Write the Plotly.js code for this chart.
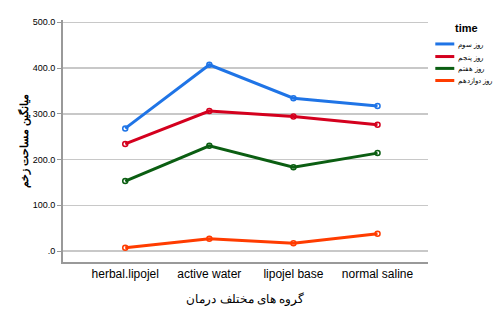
<!DOCTYPE html>
<html><head><meta charset="utf-8">
<script src="https://cdn.plot.ly/plotly-3.0.1.min.js"></script>
<style>html,body{margin:0;padding:0;background:#fff;}#chart{width:495px;height:309px;}</style>
</head><body><div id="chart"></div>
<script>
var categories = ["herbal.lipojel", "active water", "lipojel base", "normal saline"];
var seriesNames = ["روز سوم", "روز پنجم", "روز هفتم", "روز دوازدهم"];
var day3 = [268, 407, 334, 317];
var day5 = [234, 306, 294, 276];
var day7 = [153, 230, 183, 214];
var day12 = [7, 27, 17, 38];
var yTickVals = [0, 100, 200, 300, 400, 500];
var yTickText = [".0", "100.0", "200.0", "300.0", "400.0", "500.0"];
var colors = ["#1f74e6", "#d4001e", "#0b5e12", "#ff3c00"];
var allSeries = [day3, day5, day7, day12];

var traces = allSeries.map(function (vals, i) {
  return {
    x: categories, y: vals, name: seriesNames[i], type: "scatter", mode: "lines+markers",
    line: {color: colors[i], width: 3},
    marker: {symbol: "circle-open", size: 5, color: colors[i], line: {width: 1.5}}
  };
});

// Manual legend (paper coordinates) to match the compact reference legend
var legendY = [0.901, 0.849, 0.800, 0.750];
var shapes = [], annotations = [];
seriesNames.forEach(function (nm, i) {
  shapes.push({type: "line", xref: "paper", yref: "paper",
    x0: 1.02, x1: 1.072, y0: legendY[i], y1: legendY[i],
    line: {color: colors[i], width: 3}});
  annotations.push({xref: "paper", yref: "paper", x: 1.076, y: legendY[i] - 0.004,
    xanchor: "left", yanchor: "middle", showarrow: false, text: nm,
    font: {size: 7, color: "#000"}});
});
annotations.push({xref: "paper", yref: "paper", x: 1.105, y: 0.967,
  xanchor: "center", yanchor: "middle", showarrow: false, text: "<b>time</b>",
  font: {size: 11, color: "#000"}});

var layout = {
  width: 495, height: 309,
  margin: {l: 63, r: 67, t: 20, b: 47},
  paper_bgcolor: "#fff", plot_bgcolor: "#fff",
  font: {family: "Liberation Sans, Arial, sans-serif", color: "#000"},
  showlegend: false,
  shapes: shapes, annotations: annotations,
  xaxis: {
    type: "category", range: [-0.74, 3.6],
    showgrid: false, zeroline: false,
    showline: true, linecolor: "#999", linewidth: 2,
    ticks: "", tickfont: {size: 12},
    title: {text: "گروه های مختلف درمان", font: {size: 12}, standoff: 14}
  },
  yaxis: {
    range: [-24, 505],
    tickvals: yTickVals, ticktext: yTickText,
    showgrid: true, gridcolor: "#c8c8c8", gridwidth: 1.5,
    zeroline: false, showline: true, linecolor: "#999", linewidth: 2,
    ticks: "outside", ticklen: 4, tickcolor: "#999",
    tickfont: {size: 9},
    title: {text: "<b>میانگین مساحت زخم</b>", font: {size: 11}, standoff: 2}
  }
};

Plotly.newPlot("chart", traces, layout, {displayModeBar: false, staticPlot: true});
</script></body></html>
